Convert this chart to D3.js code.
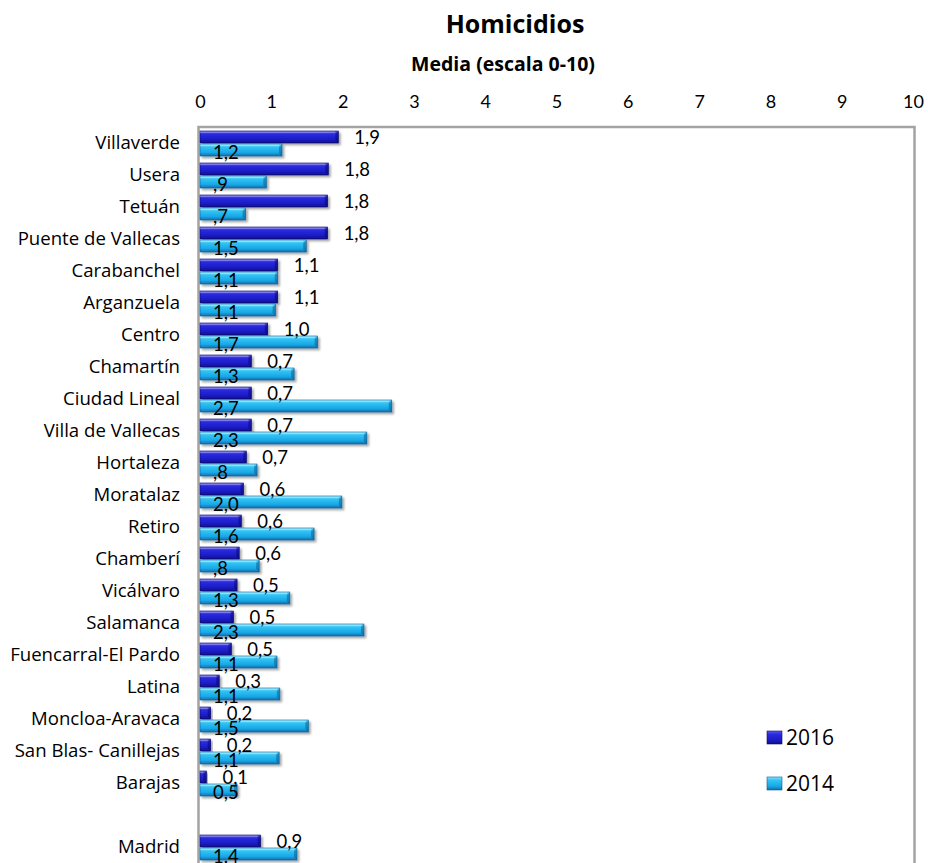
<!DOCTYPE html>
<html>
<head>
<meta charset="utf-8">
<script src="https://cdn.jsdelivr.net/npm/d3@7"></script>
<style>
  body { margin: 0; background: #fff; }
  svg { display: block; }
  text { font-family: Lato, "Open Sans", sans-serif; fill: #000; }
</style>
</head>
<body>
<div id="chart"></div>
<script>
// districts, top to bottom ("" = blank row before Madrid)
const districts = ["Villaverde", "Usera", "Tetuán", "Puente de Vallecas", "Carabanchel", "Arganzuela",
  "Centro", "Chamartín", "Ciudad Lineal", "Villa de Vallecas", "Hortaleza", "Moratalaz", "Retiro",
  "Chamberí", "Vicálvaro", "Salamanca", "Fuencarral-El Pardo", "Latina", "Moncloa-Aravaca",
  "San Blas- Canillejas", "Barajas", "", "Madrid"];

const values2016 = [1.94, 1.80, 1.79, 1.79, 1.09, 1.09, 0.95, 0.72, 0.72, 0.72, 0.65, 0.61, 0.58,
  0.55, 0.52, 0.47, 0.44, 0.27, 0.15, 0.15, 0.09, null, 0.85];
const values2014 = [1.15, 0.93, 0.64, 1.49, 1.09, 1.06, 1.65, 1.32, 2.69, 2.34, 0.80, 1.99, 1.60,
  0.83, 1.26, 2.30, 1.08, 1.12, 1.52, 1.11, 0.52, null, 1.36];

const labels2016 = ["1,9", "1,8", "1,8", "1,8", "1,1", "1,1", "1,0", "0,7", "0,7", "0,7", "0,7", "0,6", "0,6",
  "0,6", "0,5", "0,5", "0,5", "0,3", "0,2", "0,2", "0,1", "", "0,9"];
const labels2014 = ["1,2", ",9", ",7", "1,5", "1,1", "1,1", "1,7", "1,3", "2,7", "2,3", ",8", "2,0", "1,6",
  ",8", "1,3", "2,3", "1,1", "1,1", "1,5", "1,1", "0,5", "", "1,4"];

const xTicks = [0, 1, 2, 3, 4, 5, 6, 7, 8, 9, 10];
const seriesNames = ["2016", "2014"];

const width = 928, height = 863;

const svg = d3.select("#chart").append("svg")
    .attr("width", width)
    .attr("height", height);

const defs = svg.append("defs");

// bar gradients (bevelled look)
const grads = [
    { id: "g2016", stops: ["#5a5af0", "#2a2ae0", "#1c1cc4", "#0e0e86"] },
    { id: "g2014", stops: ["#8ae4ff", "#30c4f4", "#1aa8e6", "#0d6fae"] }
];
grads.forEach(g => {
    const lg = defs.append("linearGradient")
        .attr("id", g.id)
        .attr("x1", 0).attr("y1", 0).attr("x2", 0).attr("y2", 1);
    [0, 0.25, 0.7, 1].forEach((o, i) => {
        lg.append("stop").attr("offset", o).attr("stop-color", g.stops[i]);
    });
});

const shadow = defs.append("filter").attr("id", "shadow")
    .attr("x", "-10%").attr("y", "-30%").attr("width", "130%").attr("height", "180%");
shadow.append("feDropShadow")
    .attr("dx", 2).attr("dy", 2).attr("stdDeviation", 1.2)
    .attr("flood-color", "#000").attr("flood-opacity", 0.35);

const x = d3.scaleLinear()
    .domain([0, 10])
    .range([200, 913]);

const y = d3.scaleBand()
    .domain(districts)
    .range([127, 863]);

const barH = 12;

// titles
svg.append("text")
    .attr("x", 515).attr("y", 33)
    .attr("text-anchor", "middle")
    .style("font-family", "'Open Sans', sans-serif")
    .style("font-size", "25px").style("font-weight", "bold")
    .text("Homicidios");

svg.append("text")
    .attr("x", 503).attr("y", 71)
    .attr("text-anchor", "middle")
    .style("font-family", "'Open Sans', sans-serif")
    .style("font-size", "19.5px").style("font-weight", "bold")
    .text("Media (escala 0-10)");

// top axis
const axis = svg.append("g")
    .attr("transform", "translate(0,108)")
    .call(d3.axisTop(x).tickValues(xTicks).tickSize(0).tickPadding(0).tickFormat(d3.format("d")));
axis.select(".domain").remove();
axis.selectAll("text")
    .style("font-family", "Lato, sans-serif")
    .style("font-size", "18px");

// plot frame
svg.append("rect")
    .attr("x", x(0) - 1.5)
    .attr("y", y.range()[0])
    .attr("width", x(10) - x(0) + 3)
    .attr("height", 800)
    .attr("fill", "none")
    .attr("stroke", "#a3a3a3")
    .attr("stroke-width", 2.5);

// category labels
svg.append("g").selectAll("text")
    .data(districts)
    .enter()
    .append("text")
    .attr("x", 180)
    .attr("y", d => y(d) + 22)
    .attr("text-anchor", "end")
    .style("font-family", "'Open Sans', sans-serif")
    .style("font-size", "18.6px")
    .text(d => d);

const rows = districts.map((d, i) => ({
    name: d, v16: values2016[i], v14: values2014[i], l16: labels2016[i], l14: labels2014[i]
})).filter(d => d.v16 != null);

function drawBar(g, v, top, grad, edge) {
    const x0 = x(0), x1 = x(v);
    g.append("rect")
        .attr("x", x0).attr("y", top)
        .attr("width", x1 - x0).attr("height", barH)
        .attr("fill", `url(#${grad})`)
        .attr("stroke", edge).attr("stroke-width", 0.6)
        .attr("filter", "url(#shadow)");
    // bevelled end cap
    const b = Math.min(3, (x1 - x0) / 2);
    g.append("path")
        .attr("d", `M${x1 - b},${top + 3} L${x1},${top} L${x1},${top + barH} L${x1 - b},${top + barH - 3} Z`)
        .attr("fill", edge).attr("opacity", 0.55);
    // top highlight
    g.append("rect")
        .attr("x", x0).attr("y", top + 0.5)
        .attr("width", Math.max(0, x1 - x0 - b)).attr("height", 1.6)
        .attr("fill", "#fff").attr("opacity", 0.3);
}

const barsG = svg.append("g");
rows.forEach(r => {
    const t = y(r.name);
    drawBar(barsG, r.v16, t + 4, "g2016", "#0a0a6e");
    drawBar(barsG, r.v14, t + 17, "g2014", "#0b5f96");
});

// value labels
const labG = svg.append("g");
rows.forEach(r => {
    const t = y(r.name);
    labG.append("text")
        .attr("x", x(r.v16) + 16)
        .attr("y", t + 17)
        .style("font-size", "18.5px")
        .text(r.l16);
    labG.append("text")
        .attr("x", x(0) + 13)
        .attr("y", t + 32)
        .style("font-size", "18.5px")
        .text(r.l14);
});

// legend
const legend = svg.append("g");
seriesNames.forEach((s, i) => {
    const ly = 731 + i * 46;
    legend.append("rect")
        .attr("x", 767).attr("y", ly)
        .attr("width", 15).attr("height", 13)
        .attr("fill", i === 0 ? "url(#g2016)" : "url(#g2014)")
        .attr("stroke", i === 0 ? "#0a0a6e" : "#0b5f96").attr("stroke-width", 0.6);
    legend.append("text")
        .attr("x", 786).attr("y", ly + 14)
        .style("font-family", "'Open Sans', sans-serif")
        .style("font-size", "21px")
        .text(s);
});
</script>
</body>
</html>
